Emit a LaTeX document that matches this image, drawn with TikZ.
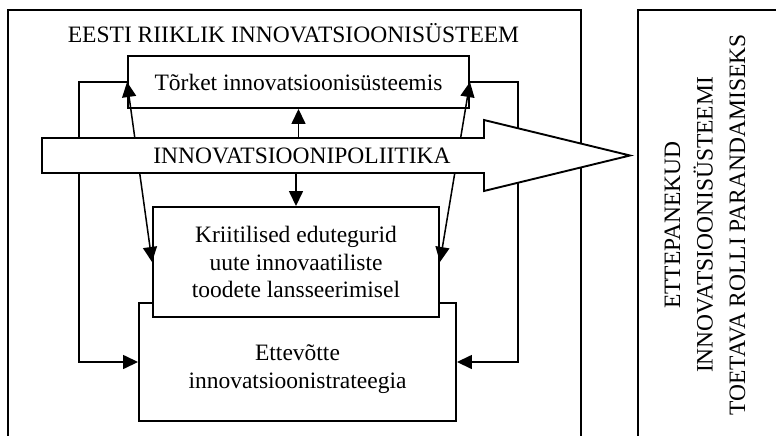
\documentclass[tikz,border=0pt]{standalone}
\usepackage{fontspec}
\setmainfont{Liberation Serif}
\usetikzlibrary{arrows.meta}

\begin{document}
\begin{tikzpicture}
        [x=1pt, y=-1pt, line width=1.5pt,
         box/.style={draw, line width=1.9pt, fill=white, align=center, inner sep=0pt},
         txt/.style={font=\fontsize{23.5}{27.5}\selectfont},
         tip/.style={-{Triangle[length=15pt,width=14pt]}},
         both/.style={{Triangle[length=15pt,width=14pt]}-{Triangle[length=15pt,width=14pt]}}]
        \useasboundingbox (0,0) rectangle (776,436);
        \draw[line width=1.9pt] (8,436) |- (581,10) -- (581,436);
        \draw[line width=1.9pt] (638,436) |- (790,10);
        \path node (riik) at (293.5,43) [txt, anchor=base] {EESTI RIIKLIK INNOVATSIOONISÜSTEEM};
        \path node (ettev) at (297.5,362) [box, minimum width=317, minimum height=118,
                    label={[txt, align=center, yshift=-7]center:Ettevõtte\\innovatsioonistrateegia}] {}
              node (kriit) at (296,262) [box, txt, minimum width=286, minimum height=110] {Kriitilised edutegurid\\uute innovaatiliste\\toodete lansseerimisel}
              node (tork) at (298.5,82) [box, txt, minimum width=341, minimum height=52] {Tõrket innovatsioonisüsteemis};
        \draw[tip] (tork.west) -- ++(-48,0) |- (ettev.west);
        \draw[tip] (tork.east) -- ++(48,0) |- (ettev.east);
        \draw[both] (kriit.west) -- (tork.west);
        \draw[both] (kriit.east) -- (tork.east);
        \draw[fill=white, line width=1.9pt] (42,138) -- (484,138) -- (484,120) -- (630,155.5) -- (484,191) -- (484,173) -- (42,173) -- cycle;
        \path node (pol) at (302,155.5) [txt, minimum height=35, inner sep=0pt] {INNOVATSIOONIPOLIITIKA};
        \draw[tip] (pol.north -| tork.south) -- (tork.south);
        \draw[tip] (pol.south -| kriit.north) -- (kriit.north);
        \path node (ide) at (705,225) [rotate=90, align=center, font=\fontsize{23.5}{32.5}\selectfont]
              {ETTEPANEKUD\\INNOVATSIOONISÜSTEEMI\\TOETAVA ROLLI PARANDAMISEKS};
\end{tikzpicture}
\end{document}
